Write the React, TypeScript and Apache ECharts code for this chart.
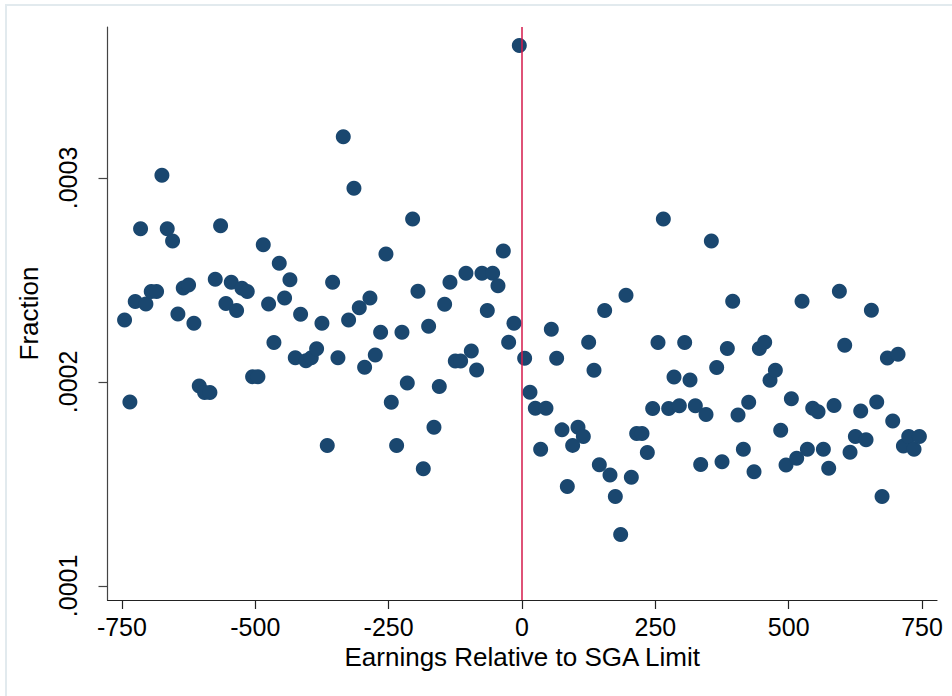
import { useEffect, useRef } from "react";
import * as echarts from "echarts";

// Bin centres (earnings relative to the SGA limit, 10-unit bins)
const earnings = [
  -745, -735, -725, -715, -705, -695, -685, -675, -665, -655,
  -645, -635, -625, -615, -605, -595, -585, -575, -565, -555,
  -545, -535, -525, -515, -505, -495, -485, -475, -465, -455,
  -445, -435, -425, -415, -405, -395, -385, -375, -365, -355,
  -345, -335, -325, -315, -305, -295, -285, -275, -265, -255,
  -245, -235, -225, -215, -205, -195, -185, -175, -165, -155,
  -145, -135, -125, -115, -105, -95, -85, -75, -65, -55,
  -45, -35, -25, -15, -5, 5, 15, 25, 35, 45,
  55, 65, 75, 85, 95, 105, 115, 125, 135, 145,
  155, 165, 175, 185, 195, 205, 215, 225, 235, 245,
  255, 265, 275, 285, 295, 305, 315, 325, 335, 345,
  355, 365, 375, 385, 395, 405, 415, 425, 435, 445,
  455, 465, 475, 485, 495, 505, 515, 525, 535, 545,
  555, 565, 575, 585, 595, 605, 615, 625, 635, 645,
  655, 665, 675, 685, 695, 705, 715, 725, 735, 745,
];

// Fraction of observations in each bin
const fraction = [
  0.0002304, 0.0001902, 0.0002394, 0.0002751, 0.0002382, 0.0002443, 0.0002443, 0.0003013, 0.0002751, 0.0002691,
  0.0002333, 0.0002461, 0.0002475, 0.0002288, 0.000198, 0.0001948, 0.0001948, 0.0002503, 0.0002766, 0.0002384,
  0.0002489, 0.000235, 0.0002459, 0.0002443, 0.0002026, 0.0002026, 0.0002673, 0.0002382, 0.0002193, 0.0002582,
  0.0002411, 0.0002501, 0.0002118, 0.0002332, 0.0002104, 0.0002118, 0.0002163, 0.0002288, 0.0001688, 0.0002489,
  0.0002118, 0.0003202, 0.0002304, 0.000295, 0.0002364, 0.0002072, 0.0002412, 0.0002132, 0.0002244, 0.0002627,
  0.00019, 0.0001688, 0.0002244, 0.0001995, 0.0002799, 0.0002445, 0.0001575, 0.0002273, 0.0001778, 0.0001978,
  0.0002381, 0.0002489, 0.0002103, 0.0002103, 0.0002533, 0.0002152, 0.0002059, 0.0002533, 0.000235, 0.0002533,
  0.0002472, 0.0002642, 0.0002195, 0.0002288, 0.0003649, 0.0002116, 0.000195, 0.0001871, 0.000167, 0.0001871,
  0.0002258, 0.0002116, 0.0001765, 0.0001487, 0.0001689, 0.0001778, 0.0001732, 0.0002194, 0.0002057, 0.0001594,
  0.000235, 0.0001544, 0.0001438, 0.0001252, 0.0002425, 0.0001533, 0.0001747, 0.0001747, 0.0001654, 0.000187,
  0.0002193, 0.0002799, 0.000187, 0.0002024, 0.0001883, 0.0002193, 0.0002009, 0.0001883, 0.0001595, 0.000184,
  0.0002691, 0.0002071, 0.0001609, 0.0002164, 0.0002395, 0.0001838, 0.000167, 0.00019, 0.000156, 0.0002164,
  0.0002194, 0.0002008, 0.0002057, 0.0001763, 0.0001593, 0.0001917, 0.0001626, 0.0002395, 0.000167, 0.0001871,
  0.0001854, 0.000167, 0.0001577, 0.0001884, 0.0002444, 0.000218, 0.0001655, 0.0001732, 0.0001858, 0.0001716,
  0.0002351, 0.0001902, 0.0001438, 0.0002117, 0.0001809, 0.0002136, 0.0001686, 0.0001732, 0.000167, 0.0001732,
];

const xTicks = [-750, -500, -250, 0, 250, 500, 750];
const yTicks = [0.0001, 0.0002, 0.0003];
const limitLine = 0;

const FONT = "'Liberation Sans', Arial, Helvetica, sans-serif";
const NAVY = "#1a476f";
const GRID = "#e8f0f3";
const RED = "#d4184a";

export default function App() {
  const ref = useRef<HTMLDivElement>(null);

  useEffect(() => {
    const chart = echarts.init(ref.current!, null, { renderer: "svg" });
    chart.setOption({
      animation: false,
      backgroundColor: "#ffffff",
      grid: {
        left: 107.5,
        right: 15,
        top: 27,
        bottom: 96,
        containLabel: false,
        outerBoundsMode: "none",
      },
      graphic: [
        {
          type: "rect",
          silent: true,
          z: -10,
          shape: { x: 6, y: 5, width: 980, height: 720 },
          style: { fill: "none", stroke: "#e2eaee", lineWidth: 2 },
        },
      ],
      xAxis: {
        type: "value",
        min: -777,
        max: 778,
        name: "Earnings Relative to SGA Limit",
        nameLocation: "middle",
        nameGap: 44,
        nameTextStyle: { fontFamily: FONT, fontSize: 26, color: "#000" },
        axisLine: { show: true, onZero: false, lineStyle: { color: "#222", width: 1.2 } },
        axisTick: { show: true, length: 9, customValues: xTicks, lineStyle: { color: "#222", width: 1.2 } },
        axisLabel: {
          customValues: xTicks,
          margin: 14,
          fontFamily: FONT,
          fontSize: 25,
          color: "#000",
        },
        splitLine: { show: false },
      },
      yAxis: {
        type: "value",
        min: 0.0000931,
        max: 0.000374,
        name: "Fraction",
        nameLocation: "middle",
        nameGap: 66,
        nameRotate: 90,
        nameTextStyle: { fontFamily: FONT, fontSize: 26, color: "#000" },
        axisLine: { show: true, onZero: false, lineStyle: { color: "#444", width: 1.2 } },
        axisTick: { show: true, length: 9, customValues: yTicks, lineStyle: { color: "#444", width: 1.2 } },
        axisLabel: {
          customValues: yTicks,
          rotate: 90,
          margin: 27,
          fontFamily: FONT,
          fontSize: 25,
          color: "#000",
          formatter: (v: number) => v.toFixed(4).replace(/^0/, ""),
        },
        splitLine: { show: false },
      },
      series: [
        {
          type: "scatter",
          data: [],
          z: 1,
          silent: true,
          markLine: {
            silent: true,
            symbol: "none",
            label: { show: false },
            lineStyle: { color: GRID, width: 2, type: "solid" },
            data: yTicks.map((v) => ({ yAxis: v })),
          },
        },
        {
          type: "scatter",
          data: [],
          z: 2,
          silent: true,
          markLine: {
            silent: true,
            symbol: "none",
            label: { show: false },
            lineStyle: { color: RED, width: 1.5, type: "solid" },
            data: [{ xAxis: limitLine }],
          },
        },
        {
          type: "scatter",
          z: 3,
          symbol: "circle",
          symbolSize: 15,
          itemStyle: { color: NAVY, opacity: 1 },
          data: earnings.map((x, i) => [x, fraction[i]]),
        },
      ],
    });
    return () => chart.dispose();
  }, []);

  return (
    <div
      ref={ref}
      style={{ position: "fixed", left: 0, top: 0, width: 952, height: 696 }}
    />
  );
}
